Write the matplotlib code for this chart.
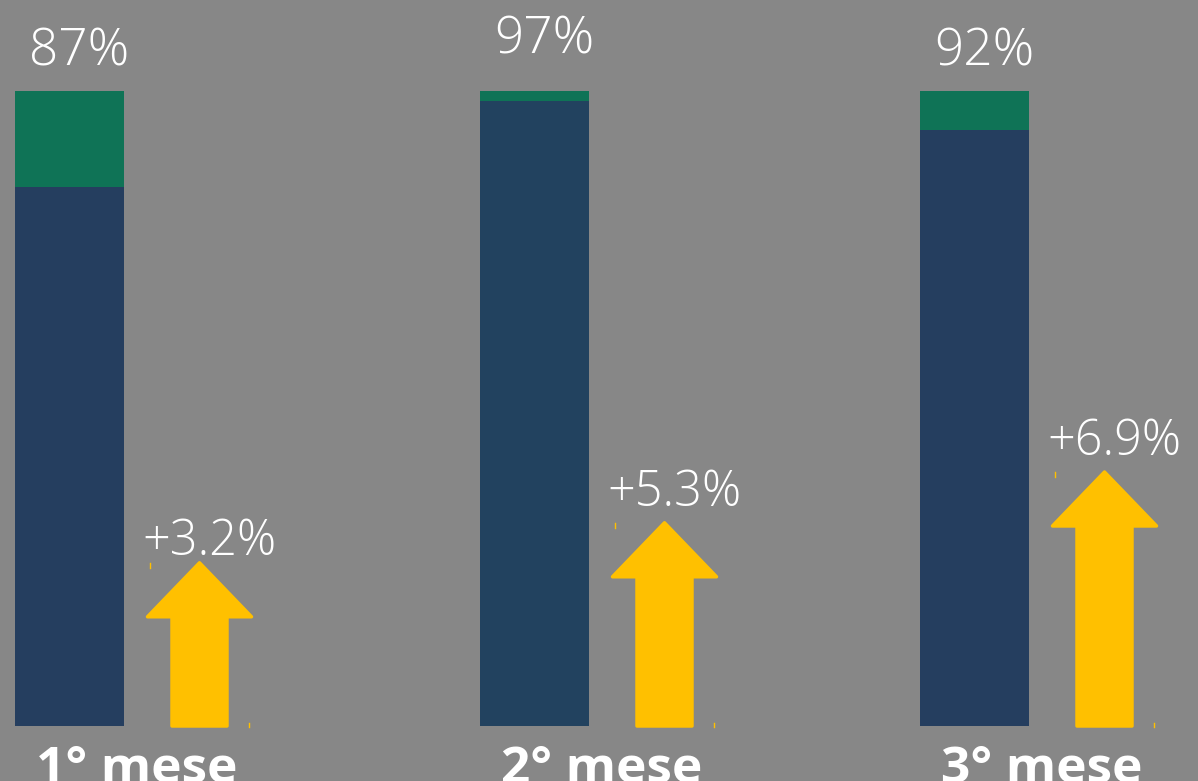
import matplotlib
matplotlib.use("Agg")
import matplotlib.pyplot as plt
from matplotlib.patches import Polygon
from matplotlib import font_manager as fm

# ---- data ----
categories = ["1° mese", "2° mese", "3° mese"]
base_share = [84.9, 98.4, 93.9]          # navy segment (of 100)
top_share = [15.1, 1.6, 6.1]             # green segment
value_labels = ["87%", "97%", "92%"]
growth_labels = ["+3.2%", "+5.3%", "+6.9%"]
arrow_len = [25.7, 32.0, 40.0]           # arrow heights on the bar scale

# ---- style / layout ----
BG = "#878787"
NAVY = ["#253E5F", "#22425F", "#253E5F"]
GREEN = "#0F7356"
YELLOW = "#FFC000"
group_x = [69.5, 534.5, 974.5]           # bar centres (px)
bar_w = 109
arrow_dx = 130
shaft_hw = 27.5
head_hw = 52
head_len = 8.5

names = sorted({(f.name, f.weight) for f in fm.fontManager.ttflist if "Open Sans" in f.name}, key=str)
print(names)

W, H = 1198, 781
fig = plt.figure(figsize=(W / 100, H / 100), dpi=100, facecolor=BG)
ax = fig.add_axes([0, 0, 1, 1])
ax.set_facecolor(BG)
px = 6.35  # pixels per bar unit
ax.set_xlim(0, W)
ax.set_ylim(-(H - 726) / px, 726 / px)
ax.axis("off")

FONT = ["Open Sans", "DejaVu Sans"]

for i in range(3):
    x = group_x[i]
    ax.bar(x, base_share[i], width=bar_w, color=NAVY[i], linewidth=0)
    ax.bar(x, top_share[i], bottom=base_share[i], width=bar_w, color=GREEN, linewidth=0)
    total = base_share[i] + top_share[i]
    dy = 4.0 if i != 1 else 5.9
    ax.text(x + 9.5, total + dy, value_labels[i], ha="center", va="baseline",
            color="white", fontsize=37, family=FONT, fontweight="light")

    cx = x + arrow_dx
    L = arrow_len[i]
    pts = [(cx - shaft_hw, 0), (cx + shaft_hw, 0), (cx + shaft_hw, L - head_len),
           (cx + head_hw, L - head_len), (cx, L), (cx - head_hw, L - head_len),
           (cx - shaft_hw, L - head_len)]
    ax.add_patch(Polygon(pts, closed=True, facecolor=YELLOW, edgecolor=YELLOW,
                         linewidth=2.5, joinstyle="round"))
    # tiny bounding-box corner marks
    ax.plot([cx - 49.5, cx - 49.5], [L - 0.05, L - 0.75], color=YELLOW, lw=1)
    ax.plot([cx + 49.5, cx + 49.5], [0.55, -0.15], color=YELLOW, lw=1)

    gap = 1.3 if i == 0 else 2.7
    ax.text(cx + 10, L + gap, growth_labels[i], ha="center", va="baseline",
            color="white", fontsize=35, family=FONT, fontweight="light")

    ax.text(x + 67, -(783 - 726) / px, categories[i], ha="center", va="baseline",
            color="white", fontsize=37, fontweight="bold", family=FONT)

fig.savefig("out.png", dpi=100, facecolor=BG)
